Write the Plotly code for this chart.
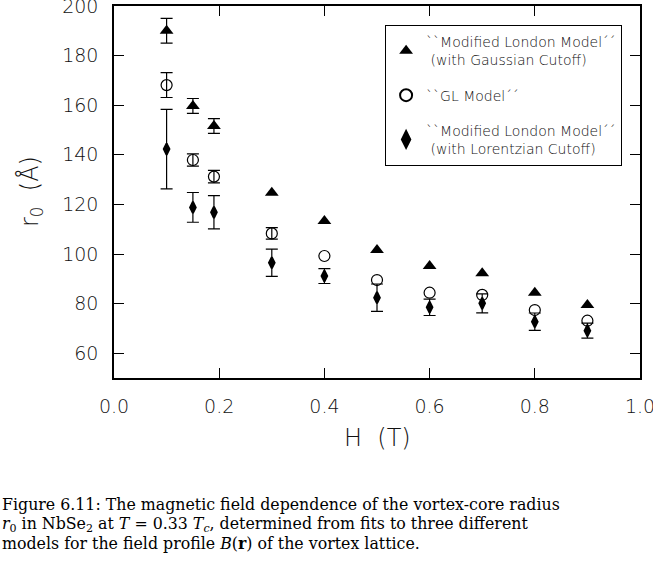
import plotly.graph_objects as go

H = [0.1, 0.15, 0.19, 0.3, 0.4, 0.5, 0.6, 0.7, 0.8, 0.9]
r_gauss = [190, 159.7, 151.6, 124.7, 113.3, 101.6, 95.2, 92.2, 84.4, 79.4]
e_gauss = [5, 3, 3]          # remaining error bars are hidden by the markers
r_gl = [168.1, 137.9, 131.2, 108.3, 99.2, 89.5, 84.4, 83.5, 77.4, 73.1]
e_gl = [5, 2.5, 2.5, 2.3]    # remaining error bars are hidden by the markers
r_lor = [142.3, 118.8, 116.8, 96.5, 91.1, 82.4, 78.5, 80.1, 72.7, 69.1]
e_lor = [16, 6, 6.7, 5.5, 3, 5.5, 3.3, 3.8, 3.5, 3]

names = ["``Modified London Model´´<br> (with Gaussian Cutoff)",
         "``GL Model´´",
         "``Modified London Model´´<br> (with Lorentzian Cutoff)"]

FONT = "DejaVu Sans"

fig = go.Figure()
err_style = dict(type="data", color="black", thickness=1.2, width=6)
fig.add_trace(go.Scatter(x=H, y=r_gauss, mode="markers", name=names[0], legendgroup="g1",
                         marker=dict(symbol="triangle-up", size=12, color="black"),
                         error_y=dict(array=e_gauss, **err_style)))
fig.add_trace(go.Scatter(x=H, y=r_gl, mode="markers", name=names[1], legendgroup="g2",
                         marker=dict(symbol="circle-open", size=11, color="black",
                                     line=dict(width=1.2, color="black")),
                         error_y=dict(array=e_gl, **err_style)))
fig.add_trace(go.Scatter(x=H, y=r_lor, mode="markers", name=names[2], legendgroup="g3",
                         marker=dict(symbol="diamond-tall", size=8, color="black",
                                     line=dict(width=2, color="black")),
                         error_y=dict(array=e_lor, **err_style)))

axis_common = dict(showline=True, linecolor="black", linewidth=1.5, mirror="ticks",
                   ticks="inside", ticklen=10, tickwidth=1.2, tickcolor="black",
                   showgrid=False, zeroline=False, ticklabeloverflow="allow",
                   automargin=False,
                   tickfont=dict(family=FONT, size=19, color="#111", weight=200))

fig.update_xaxes(range=[0, 1], dtick=0.2, tick0=0, tickformat=".1f",
                 ticklabelstandoff=10, **axis_common)
fig.update_yaxes(range=[50, 200], tickvals=[60, 80, 100, 120, 140, 160, 180, 200],
                 ticklabelstandoff=10, **axis_common)

PW, PH, L, T = 526, 372, 114, 6

fig.update_layout(
    width=653, height=571,
    margin=dict(l=L, r=13, t=T, b=193),
    paper_bgcolor="white", plot_bgcolor="white",
    showlegend=True,
    legend=dict(x=0.515, y=0.949, xanchor="left", yanchor="top",
                bordercolor="black", borderwidth=1.2, bgcolor="white",
                font=dict(family=FONT, size=14, color="#111", weight=200),
                tracegroupgap=14, itemsizing="constant"),
)

title_font = dict(family=FONT, size=24, color="#111", weight=200)
fig.add_annotation(text="H  (T)", xref="paper", yref="paper",
                   x=(377 - L) / PW, y=1 - (438 - T) / PH, xanchor="center", yanchor="middle",
                   showarrow=False, font=title_font)
fig.add_annotation(text="r<sub>0</sub>  (Å)", xref="paper", yref="paper",
                   x=(31 - L) / PW, y=1 - (192 - T) / PH, xanchor="center", yanchor="middle",
                   textangle=-90, showarrow=False, font=title_font)

caption = ["Figure 6.11: The magnetic field dependence of the vortex-core radius",
           "<i>r</i><sub>0</sub> in NbSe<sub>2</sub> at <i>T</i> = 0.33 <i>T<sub>c</sub></i>, determined from fits to three different",
           "models for the field profile <i>B</i>(<b>r</b>) of the vortex lattice."]
ys = [505, 524, 543]
for txt, yy in zip(caption, ys):
    fig.add_annotation(text=txt, xref="paper", yref="paper", x=(0 - L) / PW, xanchor="left",
                       y=1 - (yy - T) / PH, yanchor="middle", showarrow=False,
                       font=dict(family="DejaVu Serif", size=15.8, color="black"))

fig.write_html("out.html", config={"displayModeBar": False},
               post_script="document.body.style.margin='0';")
